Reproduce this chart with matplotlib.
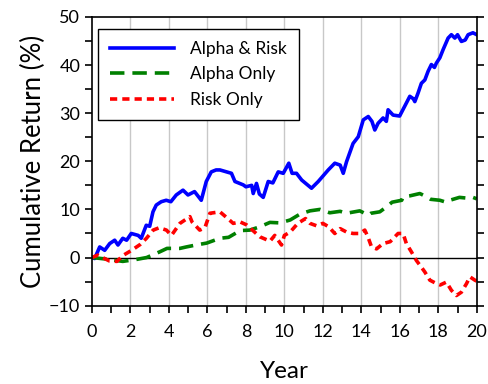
import matplotlib
matplotlib.use("Agg")
import matplotlib.pyplot as plt
from matplotlib.ticker import MultipleLocator

plt.rcParams['font.family'] = ['Lato', 'DejaVu Sans']

# Cumulative return paths (year, percent)
alpha_risk_years = [0, 0.14, 0.4, 0.66, 0.92, 1.18, 1.35, 1.6, 1.8, 2.04, 2.4, 2.56, 2.82, 3.0,
                    3.17, 3.34, 3.6, 3.86, 4.1, 4.38, 4.73, 4.99, 5.33, 5.68, 5.94, 6.2, 6.45,
                    6.65, 7.25, 7.43, 7.86, 8.0, 8.3, 8.38, 8.55, 8.7, 8.9, 9.16, 9.4, 9.68, 9.94,
                    10.23, 10.4, 10.63, 10.9, 11.41, 11.76, 12.28, 12.62, 12.9, 13.06, 13.23,
                    13.57, 13.84, 14.1, 14.36, 14.55, 14.7, 14.87, 15.13, 15.3, 15.39, 15.65,
                    15.99, 16.34, 16.52, 16.7, 16.78, 16.95, 17.12, 17.3, 17.47, 17.64, 17.8,
                    17.9, 18.08, 18.25, 18.51, 18.68, 18.86, 19.0, 19.2, 19.4, 19.55, 19.8, 20.0]
alpha_risk_vals = [0, -0.2, 2.2, 1.5, 2.9, 3.6, 2.6, 4.0, 3.6, 5.0, 4.6, 4.0, 6.7, 6.5,
                   9.5, 10.9, 11.6, 11.9, 11.6, 13.0, 14.0, 13.0, 13.7, 11.9, 15.8, 17.8, 18.2,
                   18.2, 17.5, 15.8, 15.1, 14.7, 15.0, 13.3, 15.4, 13.2, 12.5, 15.8, 15.5, 17.8, 17.5,
                   19.6, 17.5, 17.5, 16.1, 14.4, 15.8, 18.2, 19.6, 19.2, 17.5, 19.9,
                   23.7, 25.1, 28.6, 29.3, 28.3, 26.5, 27.9, 29.0, 28.3, 30.7, 29.6,
                   29.4, 32.1, 33.5, 33.0, 32.4, 34.2, 36.2, 36.9, 38.7, 40.1, 39.5,
                   40.4, 41.5, 43.2, 45.6, 46.3, 45.6, 46.3, 44.9, 45.2, 46.3, 46.7, 46.3]

alpha_only_years = [0, 0.7, 1.6, 2.3, 2.84, 3.53, 3.9, 4.57, 4.9, 5.4, 5.96, 6.65, 7.1, 7.7,
                    8.2, 8.73, 9.25, 9.77, 10.3, 10.8, 11.33, 11.85, 12.36, 12.9, 13.23, 13.92,
                    14.36, 14.5, 14.96, 15.3, 15.6, 16.1, 16.17, 16.5, 17.04, 17.4, 17.6, 18.08,
                    18.4, 18.6, 19.1, 19.6, 19.8, 20.0]
alpha_only_vals = [0, -0.3, -0.8, -0.4, 0.0, 1.2, 1.9, 1.9, 2.2, 2.6, 3.0, 4.0, 4.2, 5.6,
                   5.7, 6.4, 7.3, 7.2, 7.8, 9.0, 9.7, 10.0, 9.3, 9.6, 9.2, 9.7,
                   8.8, 9.2, 9.5, 10.5, 11.5, 11.9, 12.6, 12.8, 13.3, 12.6, 12.1, 11.9,
                   11.5, 11.9, 12.5, 12.3, 12.5, 12.2]

risk_only_years = [0, 0.3, 0.9, 1.3, 1.6, 2.06, 2.5, 2.83, 3.18, 3.5, 3.87, 4.13, 4.57, 4.83,
                   5.09, 5.2, 5.6, 5.87, 6.13, 6.65, 7.0, 7.34, 7.7, 8.03, 8.2, 8.73, 9.25, 9.5,
                   9.85, 10.0, 10.3, 10.7, 11.1, 11.33, 11.67, 12.0, 12.3, 12.62, 12.9, 13.23,
                   13.57, 13.92, 14.18, 14.35, 14.53, 14.79, 15.13, 15.5, 15.74, 15.91, 16.17,
                   16.34, 16.6, 16.86, 17.12, 17.3, 17.56, 17.9, 18.1, 18.42, 18.68, 18.94,
                   19.2, 19.47, 19.64, 19.9, 20.0]
risk_only_vals = [0, 0.5, -0.7, -0.8, 0.4, 1.5, 2.7, 4.0, 5.7, 6.2, 5.7, 4.6, 7.1, 7.8,
                  8.5, 7.4, 5.7, 6.2, 9.2, 9.5, 8.3, 7.1, 7.4, 6.8, 6.2, 4.3, 3.4, 4.6,
                  2.6, 4.6, 5.3, 7.1, 8.1, 7.1, 6.6, 7.1, 6.4, 5.0, 6.0, 5.3,
                  5.0, 5.0, 5.7, 4.2, 2.2, 1.8, 2.9, 3.3, 4.3, 5.0, 5.0,
                  2.9, 1.2, -0.6, -2.0, -3.0, -4.7, -5.4, -5.7, -5.1, -6.8, -7.9,
                  -7.2, -5.4, -4.0, -4.7, -4.9]

series_labels = ["Alpha & Risk", "Alpha Only", "Risk Only"]

fig = plt.figure(figsize=(4.88, 3.84), dpi=100)
ax = fig.add_axes([0.1885, 0.204, 0.7885, 0.752])

ax.plot(alpha_risk_years, alpha_risk_vals, color='#0000ff', lw=2.6,
        solid_joinstyle='round', label=series_labels[0])
ax.plot(alpha_only_years, alpha_only_vals, color='#008000', lw=2.6,
        dashes=(4, 2.2), label=series_labels[1])
ax.plot(risk_only_years, risk_only_vals, color='#ff0000', lw=2.6,
        dashes=(2, 1.4), label=series_labels[2])

ax.axhline(0, color='black', lw=1.0, zorder=1)

ax.set_xlim(0, 20)
ax.set_ylim(-10, 50)
ax.xaxis.set_major_locator(MultipleLocator(2))
ax.xaxis.set_minor_locator(MultipleLocator(1))
ax.yaxis.set_major_locator(MultipleLocator(10))
ax.yaxis.set_minor_locator(MultipleLocator(5))

for x in range(2, 20, 2):
    ax.axvline(x, color='#c8c8c8', lw=1.0, zorder=0)

ax.tick_params(axis='both', which='both', direction='out', color='black', width=1.2)
ax.tick_params(axis='x', which='major', length=5, labelsize=13, pad=8)
ax.tick_params(axis='x', which='minor', length=5)
ax.tick_params(axis='y', which='both', length=5, labelsize=13, right=True, left=True)
for sp in ax.spines.values():
    sp.set_linewidth(1.2)

ax.set_xlabel("Year", fontsize=17.5, labelpad=15)
ax.set_ylabel("Cumulative Return (%)", fontsize=18.5, labelpad=2)

leg = ax.legend(loc='upper left', bbox_to_anchor=(0.0, 0.98), fontsize=12.5,
                handlelength=3.7, handletextpad=0.9, labelspacing=0.55,
                borderpad=0.7, borderaxespad=0.35, fancybox=False, framealpha=1,
                edgecolor='black')
leg.get_frame().set_linewidth(1.0)

fig.savefig("out.png", dpi=100)
